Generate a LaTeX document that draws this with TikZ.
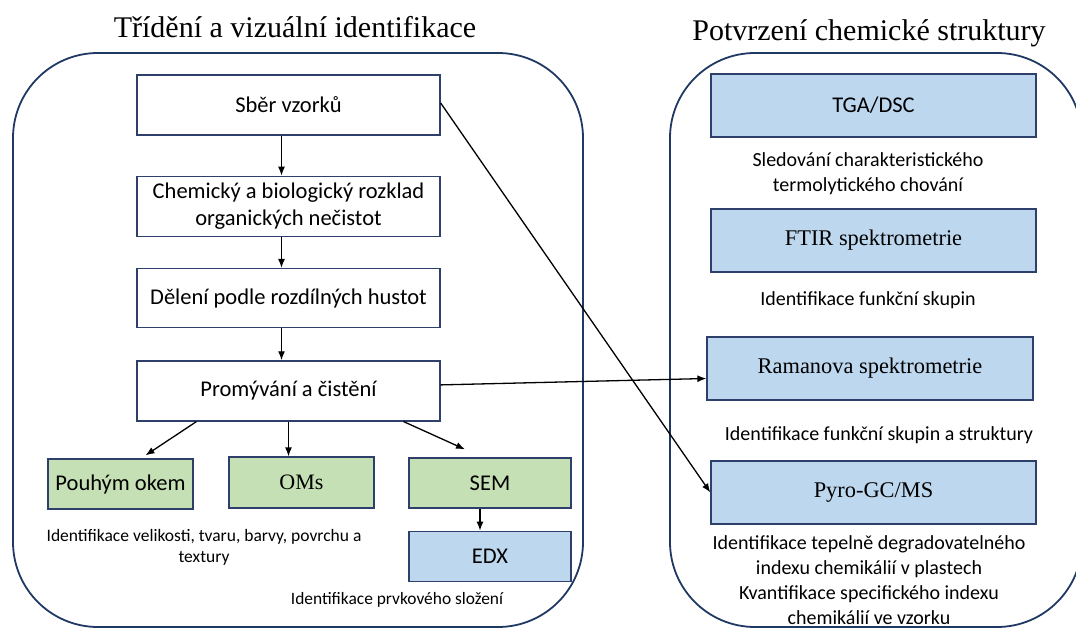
\documentclass[tikz,border=0pt]{standalone}
\usepackage{fontspec}
\setmainfont{Liberation Serif}
\newfontfamily\calfont{Carlito}
\usepackage{xcolor}
\usepackage{tikz}
\usetikzlibrary{shapes.geometric, arrows.meta, positioning}
\definecolor{frameblue}{HTML}{1F3864}
\definecolor{boxline}{HTML}{2F3F6B}
\definecolor{okgreen}{HTML}{C5E0B4}
\definecolor{skyblue}{HTML}{BDD7EE}

\begin{document}
\begin{tikzpicture}[x=1pt, y=-1pt]
\tikzstyle{stepbox} = [rectangle, draw=boxline, line width=1.3pt, fill=white, minimum width=303pt, minimum height=60pt, inner sep=0pt, font=\calfont\fontsize{22.5}{27}\selectfont, align=center]
\tikzstyle{greenbox} = [stepbox, fill=okgreen, minimum width=145pt, minimum height=50pt]
\tikzstyle{bluebox} = [stepbox, fill=skyblue, minimum width=325pt, minimum height=63pt]
\tikzstyle{note} = [font=\calfont\fontsize{20}{25}\selectfont, align=center, inner sep=0pt]
\tikzstyle{arr} = [-{Latex[length=9pt,width=7pt]}, line width=1.3pt, black]

\useasboundingbox (0,0) rectangle (1076,628);
\clip (0,0) rectangle (1076,628);

% frames
\draw[frameblue, line width=1.8pt, rounded corners=85pt] (13,53) rectangle (583,627);
\draw[frameblue, line width=1.8pt, rounded corners=85pt] (670,53) rectangle (1082,627);

\node (lefttitle) at (295,27) {\fontsize{30}{34}\selectfont Třídění a vizuální identifikace};
\node (righttitle) at (869,33) {\fontsize{30}{34}\selectfont Potvrzení chemické struktury};

% sorting column
\node (sber) [stepbox] at (288.5,105) {Sběr vzorků};
\node (rozklad) [stepbox, below=40pt of sber] {Chemický a biologický rozklad\\organických nečistot};
\node (deleni) [stepbox, below=31pt of rozklad, minimum height=59pt] {Dělení podle rozdílných hustot};
\node (promyvani) [stepbox, below=32pt of deleni] {Promývání a čistění};

\node (pouhym) [greenbox] at (120.5,484) {Pouhým okem};
\node (oms) [greenbox, font=\fontsize{22}{26}\selectfont, minimum height=51pt] at (301.5,482.5) {OMs};
\node (sem) [greenbox, minimum width=162pt] at (490,483) {SEM};
\node (edx) [greenbox, fill=skyblue, minimum width=162pt, below=22pt of sem] {EDX};

\node (velikost) [note, font=\calfont\fontsize{17.5}{21}\selectfont] at (204,547) {Identifikace velikosti, tvaru, barvy, povrchu a\\textury};
\node (prvky) [note, font=\calfont\fontsize{17.4}{21}\selectfont] at (397,600) {Identifikace prvkového složení};

% chemical structure column
\node (tga) [bluebox] at (873.5,105.5) {TGA/DSC};
\node (termo) [note] at (868,173.5) {Sledování charakteristického\\termolytického chování};
\node (ftir) [bluebox, font=\fontsize{22.4}{26}\selectfont] at (873.5,240.5) {FTIR spektrometrie};
\node (skupiny) [note] at (868,300) {Identifikace funkční skupin};
\node (raman) [bluebox, font=\fontsize{22.4}{26}\selectfont, minimum width=326pt] at (870,368.5) {Ramanova spektrometrie};
\node (struktura) [note] at (879,435) {Identifikace funkční skupin a struktury};
\node (pyro) [bluebox, font=\fontsize{22.4}{26}\selectfont] at (873.5,492.5) {Pyro-GC/MS};
\node (indexy) [note] at (869,580.5) {Identifikace tepelně degradovatelného\\indexu chemikálií v plastech\\Kvantifikace specifického indexu\\chemikálií ve vzorku};

% connectors
\draw[arr] ([xshift=-7pt]sber.south) -- ([xshift=-7pt]rozklad.north);
\draw[arr] ([xshift=-7pt]rozklad.south) -- ([xshift=-7pt]deleni.north);
\draw[arr] ([xshift=-7pt]deleni.south) -- ([xshift=-7pt]promyvani.north);
\draw[arr] ([xshift=-92pt]promyvani.south) -- ([xshift=25pt,yshift=3pt]pouhym.north);
\draw[arr] (promyvani.south) -- (promyvani.south |- oms.north);
\draw[arr] ([xshift=115pt]promyvani.south) -- ([xshift=-25pt,yshift=8pt]sem.north);
\draw[arr] ([xshift=-10pt]sem.south) -- ([xshift=-10pt]edx.north);
\draw[arr] ([yshift=6pt]promyvani.east) -- ([yshift=-10pt]raman.west);
\draw[arr] ([yshift=2pt]sber.east) -- (pyro.west);

\end{tikzpicture}
\end{document}
